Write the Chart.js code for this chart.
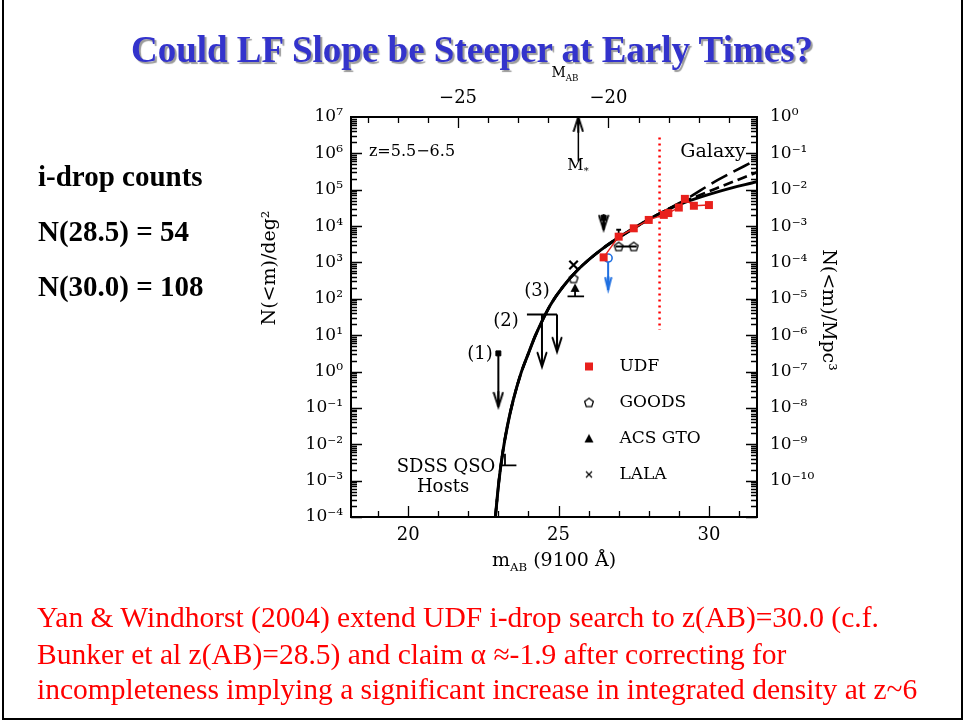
<!DOCTYPE html>
<html>
<head>
<meta charset="utf-8">
<script src="https://cdn.jsdelivr.net/npm/chart.js@4.4.1/dist/chart.umd.min.js"></script>
<style>
  html, body { margin: 0; padding: 0; background: #fff; }
  #slide { position: relative; width: 965px; height: 723px; overflow: hidden; }
  #frame { position: absolute; left: 2px; top: -2px; width: 957px; height: 718px; border: 2px solid #000; }
  #chart { position: absolute; left: 0; top: 0; }
  .t { position: absolute; white-space: nowrap; }
  .title { left: 0; width: 944px; top: 31px; text-align: center; font: bold 37px/37px "Liberation Serif", "Times New Roman", serif; color: #3333cc; text-shadow: 2px 2px 1px #9a9a9a; }
  .side { left: 38px; font: bold 29px/29px "Liberation Serif", serif; color: #000; }
  .note { left: 37px; font: 29.5px/29.5px "Liberation Serif", serif; color: #f00; }
  .pl { font: 18px/18px "DejaVu Serif", serif; color: #000; transform: translate(-50%, -50%); }
  .pl sub { font-size: 0.62em; vertical-align: -0.35em; }
  .rotl { transform: translate(-50%, -50%) rotate(-90deg); }
  .rotr { transform: translate(-50%, -50%) rotate(90deg); }
</style>
</head>
<body>
<div id="slide">
  <canvas id="chart" width="965" height="723" style="width:965px;height:723px"></canvas>
  <div id="frame"></div>

  <div class="t title">Could LF Slope be Steeper at Early Times?</div>

  <div class="t side" style="top:162px">i-drop counts</div>
  <div class="t side" style="top:217px">N(28.5) = 54</div>
  <div class="t side" style="top:272px">N(30.0) = 108</div>

  <div class="t note" style="top:603px">Yan &amp; Windhorst (2004) extend UDF i-drop search to z(AB)=30.0 (c.f.</div>
  <div class="t note" style="top:640px">Bunker et al z(AB)=28.5) and claim α ≈-1.9 after correcting for</div>
  <div class="t note" style="top:675px">incompleteness implying a significant increase in integrated density at z~6</div>

  <!-- axis titles -->
  <div class="t pl" style="left:565px;top:75px;font-size:14px">M<sub>AB</sub></div>
  <div class="t pl" style="left:554px;top:563px;font-size:19px">m<sub>AB</sub> (9100 Å)</div>
  <div class="t pl rotl" style="left:268px;top:268px;font-size:19px">N(&lt;m)/deg²</div>
  <div class="t pl rotr" style="left:830px;top:310px;font-size:19px">N(&lt;m)/Mpc³</div>

  <!-- labels inside the plot -->
  <div class="t pl" style="left:412px;top:151px;font-size:16px">z=5.5−6.5</div>
  <div class="t pl" style="left:713px;top:150px;font-size:19px">Galaxy</div>
  <div class="t pl" style="left:578px;top:168px;font-size:16px">M<sub>*</sub></div>
  <div class="t pl" style="left:480px;top:353px">(1)</div>
  <div class="t pl" style="left:506px;top:320px">(2)</div>
  <div class="t pl" style="left:537px;top:290px">(3)</div>
  <div class="t pl" style="left:446px;top:466px">SDSS QSO</div>
  <div class="t pl" style="left:443px;top:486px">Hosts</div>
</div>

<script>
// AXES
const mMin = 18.1, mMax = 31.6;        // apparent magnitude m_AB
const distMod = 46.66;                 // m - M, for the top M_AB axis
const nMin = 1e-4, nMax = 1e7;         // N(<m)/deg^2
const volMin = 1e-11, volMax = 1e0;    // N(<m)/Mpc^3
const xLabels = [20, 25, 30];
const topLabels = [-25, -20];

// MODEL CURVES
const curveM = [22.9, 23.02, 23.15, 23.3, 23.49, 23.75, 24.0, 24.22, 24.49, 24.75, 25.12, 25.62, 26.4, 27.5, 28.4, 29.2, 30.4, 31.6];
const curveSolid = [1e-4, 1e-3, 6.3e-3, 0.0316, 0.158, 0.89, 3.16, 9.3, 28.2, 72.4, 200, 603, 2190, 8710, 22900, 44700, 93300, 166000];
const dashM = [22.9, 23.02, 23.15, 23.3, 23.49, 23.75, 24.0, 24.22, 24.49, 24.75, 25.12, 25.62, 26.4, 27.5, 28.4, 29.2, 30.2, 31.6];
const curveDash = [1e-4, 1e-3, 6.3e-3, 0.0316, 0.158, 0.89, 3.16, 9.3, 28.2, 72.4, 200, 603, 2190, 8710, 22900, 47900, 105000, 302000];
const longM = [22.9, 23.02, 23.15, 23.3, 23.49, 23.75, 24.0, 24.22, 24.49, 24.75, 25.12, 25.62, 26.4, 27.5, 28.4, 29.2, 30.3, 31.6];
const curveLong = [1e-4, 1e-3, 6.3e-3, 0.0316, 0.158, 0.89, 3.16, 9.3, 28.2, 72.4, 200, 603, 2190, 8710, 22900, 52500, 186000, 676000];

// DATA POINTS
const udfM = [26.5, 27.0, 27.5, 28.0, 28.5, 28.65, 29.0, 29.2, 29.5, 30.0];
const udfN = [1380, 5130, 8710, 14800, 20400, 22900, 32400, 56200, 36300, 38000];
const goodsM = [25.5, 27.0, 27.5];
const goodsN = [363, 2750, 2750];
const acsM = [25.55];
const acsN = [200];
const lalaM = [25.5];
const lalaN = [851];
const blueM = [26.65];
const blueN = [1320];

// UPPER LIMITS (arrows)
const limitM = [23.0, 24.45, 24.95, 26.5];
const limitFrom = [3.16, 37, 37, 17000];
const limitTo = [0.107, 1.35, 3.5, 7940];
const limitSqM = [23.0, 26.5];
const limitSqN = [3.16, 17000];
const blueLimFrom = [1200];
const blueLimTo = [176];

// BARS / ERROR BARS
const hBarM1 = [23.95, 26.9, 23.12, 25.3, 26.92];
const hBarM2 = [24.95, 27.6, 23.6, 25.85, 27.08];
const hBarN = [37, 2750, 0.00263, 117, 7940];
const vBarM = [23.22, 25.55, 27.0];
const vBarLo = [0.00263, 117, 5130];
const vBarHi = [0.0055, 200, 7940];

// MAGNITUDE LIMIT (dotted) AND M*
const limitMag = 28.36;
const limitSpan = [2.75e6, 13.8];
const mStar = -21.0;
const mStarSpan = [6.0e5, 1e7];

// LEGEND
const legendNames = ["UDF", "GOODS", "ACS GTO", "LALA"];

// SYMBOLS
function makeIcon(w, h, draw) {
  const c = document.createElement("canvas");
  c.width = w; c.height = h;
  draw(c.getContext("2d"), w, h);
  return c;
}
const pentagon = makeIcon(12, 12, (g) => {
  g.strokeStyle = "#000"; g.lineWidth = 1.3;
  g.beginPath();
  for (let k = 0; k < 5; k++) {
    const a = -Math.PI / 2 + k * 2 * Math.PI / 5;
    const px = 6 + 4.6 * Math.cos(a), py = 6.4 + 4.6 * Math.sin(a);
    if (k === 0) g.moveTo(px, py); else g.lineTo(px, py);
  }
  g.closePath(); g.stroke();
});
const redSquare = makeIcon(10, 10, (g) => { g.fillStyle = "#e8201c"; g.fillRect(1, 1, 8, 8); });
const blackTri = makeIcon(12, 12, (g) => {
  g.fillStyle = "#000"; g.beginPath();
  g.moveTo(6, 1.5); g.lineTo(10.5, 10); g.lineTo(1.5, 10); g.closePath(); g.fill();
});
const smallX = makeIcon(10, 10, (g) => {
  g.strokeStyle = "#000"; g.lineWidth = 1.2; g.beginPath();
  g.moveTo(2, 2); g.lineTo(8, 8); g.moveTo(8, 2); g.lineTo(2, 8); g.stroke();
});
function arrowHead(color, w, h) {
  return makeIcon(w, h * 2, (g) => {
    g.strokeStyle = color; g.lineWidth = 2; g.lineCap = "round";
    g.beginPath();
    g.moveTo(1.5, 2); g.lineTo(w / 2, h); g.lineTo(w - 1.5, 2);
    g.moveTo(w / 2, 1); g.lineTo(w / 2, h);
    g.stroke();
  });
}
const blackHead = arrowHead("#000", 12, 16);
const blueHead = arrowHead("#1f6fe0", 9, 14);
const legendIcons = [redSquare, pentagon, blackTri, smallX];

// HELPERS
const pts = (xs, ys) => xs.map((x, i) => ({ x, y: ys[i] }));
function segments(x1, y1, x2, y2) {
  const out = [];
  x1.forEach((_, i) => {
    out.push({ x: x1[i], y: y1[i] }, { x: x2[i], y: y2[i] }, { x: x2[i], y: null });
  });
  return out;
}
const SUP = { "0": "⁰", "1": "¹", "2": "²", "3": "³", "4": "⁴", "5": "⁵", "6": "⁶", "7": "⁷", "8": "⁸", "9": "⁹", "-": "⁻" };
function powLabel(v) {
  const e = Math.round(Math.log10(v));
  return "10" + String(e).split("").map(ch => SUP[ch]).join("");
}
function decades(lo, hi) {
  const out = [];
  for (let e = Math.round(Math.log10(lo)); e <= Math.round(Math.log10(hi)); e++) out.push(Math.pow(10, e));
  return out;
}

// INWARD TICKS
const innerTicks = {
  id: "innerTicks",
  afterDraw(chart) {
    const { ctx, chartArea: a, scales } = chart;
    ctx.save();
    ctx.strokeStyle = "#000";
    ctx.lineWidth = 1.3;
    ctx.beginPath();
    const logMarks = (s, x0, dir) => {
      const lo = Math.floor(Math.log10(s.min) + 1e-9), hi = Math.round(Math.log10(s.max));
      for (let e = lo; e < hi; e++) {
        for (let k = 1; k < 10; k++) {
          const v = k * Math.pow(10, e);
          const y = Math.round(s.getPixelForValue(v)) + 0.5;
          const len = k === 1 ? 11 : 6;
          ctx.moveTo(x0, y); ctx.lineTo(x0 + dir * len, y);
        }
      }
    };
    const linMarks = (s, y0, dir) => {
      for (let v = Math.ceil(s.min); v <= s.max; v++) {
        const x = Math.round(s.getPixelForValue(v)) + 0.5;
        const len = v % 5 === 0 ? 11 : 6;
        ctx.moveTo(x, y0); ctx.lineTo(x, y0 + dir * len);
      }
    };
    logMarks(scales.y, a.left, 1);
    logMarks(scales.y2, a.right, -1);
    linMarks(scales.x, a.bottom, -1);
    linMarks(scales.x2, a.top, 1);
    ctx.stroke();
    ctx.restore();
  }
};

// LEGEND INSIDE THE PLOT, LOWER RIGHT
const legendSpot = {
  id: "legendSpot",
  afterLayout(chart) {
    const lg = chart.legend, a = chart.chartArea;
    if (!lg) return;
    lg.left = a.left + 197; lg.top = a.top + 222;
    lg.width = 170; lg.height = 175;
    lg.right = lg.left + lg.width; lg.bottom = lg.top + lg.height;
  }
};

const axisBorder = { display: true, color: "#000", width: 2 };

function logAxis(pos, lo, hi, labelLo, fitWidth, pad) {
  return {
    type: "logarithmic", position: pos, min: lo, max: hi,
    grid: { display: false, drawTicks: false },
    border: axisBorder,
    afterBuildTicks: s => { s.ticks = decades(labelLo, hi).map(v => ({ value: v })); },
    afterFit: s => { s.width = fitWidth; },
    ticks: { autoSkip: false, padding: pad, color: "#000", font: { family: "DejaVu Serif", size: 17 }, callback: v => powLabel(v) }
  };
}
function linAxis(pos, lo, hi, labels, fitHeight, fmt) {
  return {
    type: "linear", position: pos, min: lo, max: hi,
    grid: { display: false, drawTicks: false },
    border: axisBorder,
    afterBuildTicks: s => { s.ticks = labels.map(v => ({ value: v })); },
    afterFit: s => { s.height = fitHeight; },
    ticks: { autoSkip: false, padding: 8, maxRotation: 0, color: "#000", font: { family: "DejaVu Serif", size: 18 }, callback: fmt }
  };
}

const lineBase = { showLine: true, pointRadius: 0, borderColor: "#000", fill: false };

new Chart(document.getElementById("chart"), {
  type: "scatter",
  data: {
    datasets: [
      { label: "UDF", data: pts(udfM, udfN), pointStyle: redSquare, pointRadius: 5, showLine: true, borderColor: "#e8201c", borderWidth: 1.4 },
      { label: "GOODS", data: pts(goodsM, goodsN), pointStyle: pentagon, pointRadius: 5 },
      { label: "ACS GTO", data: pts(acsM, acsN), pointStyle: blackTri, pointRadius: 5 },
      { label: "LALA", data: pts(lalaM, lalaN), pointStyle: "crossRot", pointRadius: 6, borderColor: "#000", borderWidth: 2.2 },
      { label: "blue", data: pts(blueM, blueN), pointStyle: "circle", pointRadius: 4, borderColor: "#1f6fe0", backgroundColor: "#fff", borderWidth: 1.6 },
      { label: "blue head", data: pts(blueM, blueLimTo), pointStyle: blueHead, pointRadius: 5 },
      { label: "blue limit", data: segments(blueM, blueLimFrom, blueM, blueLimTo), ...lineBase, borderColor: "#1f6fe0", borderWidth: 2 },
      { label: "limit heads", data: pts(limitM, limitTo), pointStyle: blackHead, pointRadius: 5 },
      { label: "limit squares", data: pts(limitSqM, limitSqN), pointStyle: "rect", pointRadius: 3.5, backgroundColor: "#000", borderColor: "#000" },
      { label: "limits", data: segments(limitM, limitFrom, limitM, limitTo), ...lineBase, borderWidth: 2 },
      { label: "bars", data: segments(hBarM1, hBarN, hBarM2, hBarN), ...lineBase, borderWidth: 1.8 },
      { label: "errors", data: segments(vBarM, vBarLo, vBarM, vBarHi), ...lineBase, borderWidth: 1.8 },
      { label: "mag limit", data: pts([limitMag, limitMag], limitSpan), ...lineBase, borderColor: "#ff0000", borderWidth: 2.5, borderDash: [2, 4] },
      { label: "M* head", data: pts([mStar], [mStarSpan[1]]), xAxisID: "x2", pointStyle: blackHead, pointRadius: 5, pointRotation: 180 },
      { label: "M*", data: pts([mStar, mStar], mStarSpan), xAxisID: "x2", ...lineBase, borderWidth: 1.5 },
      { label: "solid", data: pts(curveM, curveSolid), ...lineBase, borderWidth: 3, cubicInterpolationMode: "monotone" },
      { label: "dash", data: pts(dashM, curveDash), ...lineBase, borderWidth: 2.6, borderDash: [10, 5], cubicInterpolationMode: "monotone" },
      { label: "long dash", data: pts(longM, curveLong), ...lineBase, borderWidth: 2.6, borderDash: [18, 7], cubicInterpolationMode: "monotone" }
    ]
  },
  options: {
    responsive: false,
    animation: false,
    events: [],
    layout: { padding: 0 },
    plugins: {
      tooltip: { enabled: false },
      legend: {
        display: true,
        position: "chartArea",
        align: "start",
        labels: {
          usePointStyle: true,
          pointStyleWidth: 44,
          boxHeight: 10,
          padding: 19,
          color: "#000",
          font: { family: "DejaVu Serif", size: 17 },
          generateLabels: () => legendNames.map((t, i) => ({
            text: t, pointStyle: legendIcons[i], fillStyle: "#000", strokeStyle: "#000",
            lineWidth: 0, hidden: false, datasetIndex: i
          }))
        }
      }
    },
    scales: {
      x: linAxis("bottom", mMin, mMax, xLabels, 723 - 517, v => String(v)),
      x2: linAxis("top", mMin - distMod, mMax - distMod, topLabels, 117, v => "−" + Math.abs(v)),
      y: logAxis("left", nMin, nMax, nMin, 351, 8),
      y2: logAxis("right", volMin, volMax, volMin * 10, 965 - 757, 13)
    }
  },
  plugins: [innerTicks, legendSpot]
});
</script>
</body>
</html>
